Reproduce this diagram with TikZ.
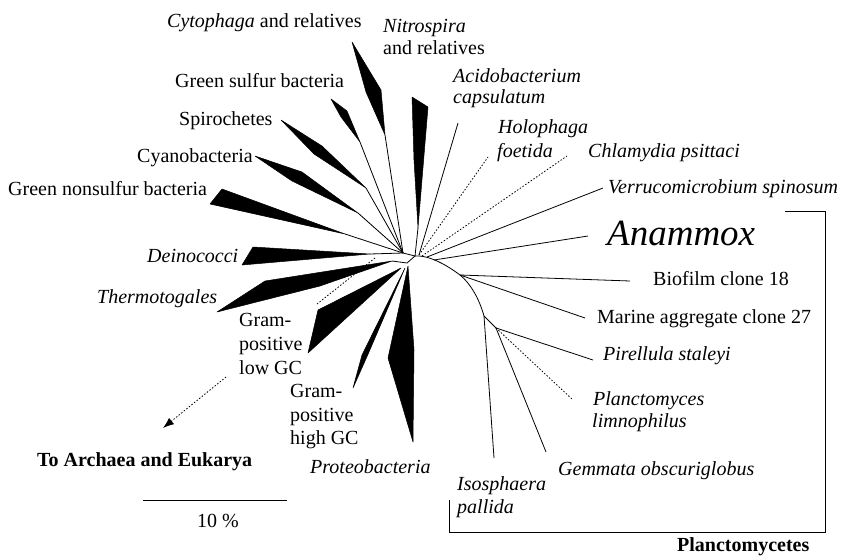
\documentclass[tikz,border=0pt]{standalone}
\usepackage{fontspec}
\setmainfont{Liberation Serif}
\usetikzlibrary{arrows.meta}
\begin{document}
\begin{tikzpicture}[x=1pt,y=-1pt,
  wedge/.style={fill=black,draw=black,line width=0.5pt,line join=round},
  br/.style={line width=0.8pt},
  dbr/.style={line width=0.8pt,dash pattern=on 1.5pt off 1.8pt},
  lab/.style={font=\fontsize{20}{24}\selectfont,inner sep=0pt,anchor=base west},
  ilab/.style={lab,font=\fontsize{20}{24}\selectfont\itshape},
  blab/.style={lab,font=\fontsize{20}{24}\selectfont\bfseries}]
\useasboundingbox (0,0) rectangle (853,557);

% ---- internal nodes
\coordinate (HL) at (403,253);
\coordinate (H) at (415,256);
\coordinate (R) at (407,263);
\coordinate (P1) at (460,275);
\coordinate (P2) at (484,316);
\coordinate (P3) at (496,328);
\coordinate (A1) at (419,255);
\coordinate (A2) at (422,256);
\coordinate (A3) at (427,257);
\coordinate (A4) at (434,260);

\draw[br] (HL) -- (H) -- (R);
\draw[br] (H) .. controls (430,255) and (448,266) .. (P1)
          .. controls (470,283) and (479,298) .. (P2) -- (P3);

% ---- upper-left wedges
\coordinate (cyto) at (385,135);
\draw[br] (HL) -- (cyto);
\fill[wedge] (352,42) -- (381,90) -- (cyto) -- (366,92) -- cycle;

\coordinate (gsb) at (360,142);
\draw[br] (HL) -- (gsb);
\fill[wedge] (331,99) -- (347,111) -- (gsb) -- (341,117) -- cycle;

\coordinate (spi) at (366,188);
\draw[br] (HL) -- (spi);
\fill[wedge] (281,120) -- (322,146) -- (spi) -- (314,154) -- cycle;

\coordinate (cya) at (358,213);
\draw[br] (HL) -- (cya);
\fill[wedge] (255,156) -- (302,172) -- (cya) -- (292,181) -- cycle;

\coordinate (gns) at (345,234);
\draw[br] (HL) -- (gns);
\fill[wedge] (222,189) -- (gns) -- (210,204) -- cycle;

\coordinate (dei) at (370,254);
\draw[br] (HL) -- (dei);
\fill[wedge] (253,247) -- (dei) -- (242,265) -- cycle;

% ---- lower wedges
\coordinate (the) at (392,261);
\draw[br] (R) -- (the);
\fill[wedge] (217,312) -- (265,281) -- (the) -- (320,286) -- cycle;

\coordinate (glo) at (401,268);
\fill[wedge] (318,310) -- (glo) -- (308,353) -- cycle;

\coordinate (ghi) at (405,268);
\fill[wedge] (353,388) -- (362,355) -- (ghi) -- (369,352) -- cycle;

\coordinate (pro) at (408,266);
\fill[wedge] (pro) -- (388,358) -- (413,442) -- (414,350) -- cycle;

% ---- to Archaea and Eukarya
\coordinate (arch0) at (375,258);
\coordinate (archA) at (317,304);
\coordinate (archB) at (226,377);
\coordinate (archT) at (163,428);
\draw[dbr] (arch0) -- (archA);
\draw[dbr,-{Latex[length=11pt,width=8pt]}] (archB) -- (archT);

% ---- upper-right
\coordinate (nit) at (418,228);
\draw[br] (H) -- (nit);
\fill[wedge] (412,97) -- (428,107) -- (nit) -- (414,160) -- cycle;

\coordinate (aci) at (458,123);
\draw[br] (A1) -- (aci);
\coordinate (hol) at (488,157);
\draw[dbr] (A1) -- (hol);
\coordinate (chl) at (567,156);
\draw[dbr] (A2) -- (chl);
\coordinate (ver) at (603,188);
\draw[br] (A3) -- (ver);
\coordinate (ana) at (588,236);
\draw[br] (A4) -- (ana);

% ---- Planctomycetes
\coordinate (bio) at (630,281);
\draw[br] (P1) -- (bio);
\coordinate (mar) at (585,318);
\draw[br] (P1) -- (mar);
\coordinate (iso) at (494,458);
\draw[br] (P2) -- (iso);
\coordinate (pir) at (593,360);
\draw[br] (P3) -- (pir);
\coordinate (pla) at (573,400);
\draw[dbr] (P3) -- (pla);
\coordinate (gem) at (546,452);
\draw[br] (P3) -- (gem);

% bracket
\draw[line width=0.7pt] (785,211) -- (825,211) -- (825,532) -- (449,532) -- (449,500);

% scale bar
\draw[line width=0.9pt] (143,500) -- (287,500);
\node[lab] (scale) at (197,527) {10 \%};

% ---- labels
\node[lab] (lcyto) at (167,27) {\textit{Cytophaga} and relatives};
\node[ilab] (lnit1) at (383,32) {Nitrospira};
\node[lab] (lnit2) at (383,54) {and relatives};
\node[lab] (lgsb) at (175,87) {Green sulfur bacteria};
\node[lab] (lspi) at (179,125) {Spirochetes};
\node[lab] (lcya) at (137,162) {Cyanobacteria};
\node[lab] (lgns) at (8,195) {Green nonsulfur bacteria};
\node[ilab] (ldei) at (147,262) {Deinococci};
\node[ilab] (lthe) at (97,303) {Thermotogales};
\node[lab] (lglo1) at (239,326) {Gram-};
\node[lab] (lglo2) at (239,350) {positive};
\node[lab] (lglo3) at (239,374) {low GC};
\node[lab] (lghi1) at (290,397) {Gram-};
\node[lab] (lghi2) at (290,421) {positive};
\node[lab] (lghi3) at (290,444) {high GC};
\node[ilab] (lpro) at (310,473) {Proteobacteria};
\node[blab] (larch) at (37,466) {To Archaea and Eukarya};

\node[ilab] (laci1) at (453,82) {Acidobacterium};
\node[ilab] (laci2) at (453,103) {capsulatum};
\node[ilab] (lhol1) at (498,133) {Holophaga};
\node[ilab] (lhol2) at (497,157) {foetida};
\node[ilab] (lchl) at (588,157) {Chlamydia psittaci};
\node[ilab] (lver) at (608,193) {Verrucomicrobium spinosum};
\node[lab,font=\fontsize{37}{40}\selectfont\itshape] (lana) at (607,245) {Anammox};
\node[lab] (lbio) at (653,285) {Biofilm clone 18};
\node[lab] (lmar) at (597,323) {Marine aggregate clone 27};
\node[ilab] (lpir) at (603,360) {Pirellula staleyi};
\node[ilab] (lpla1) at (593,405) {Planctomyces};
\node[ilab] (lpla2) at (592,427) {limnophilus};
\node[ilab] (lgem) at (558,475) {Gemmata obscuriglobus};
\node[ilab] (liso1) at (457,490) {Isosphaera};
\node[ilab] (liso2) at (457,513) {pallida};
\node[blab] (lplc) at (677,551) {Planctomycetes};
\end{tikzpicture}
\end{document}
